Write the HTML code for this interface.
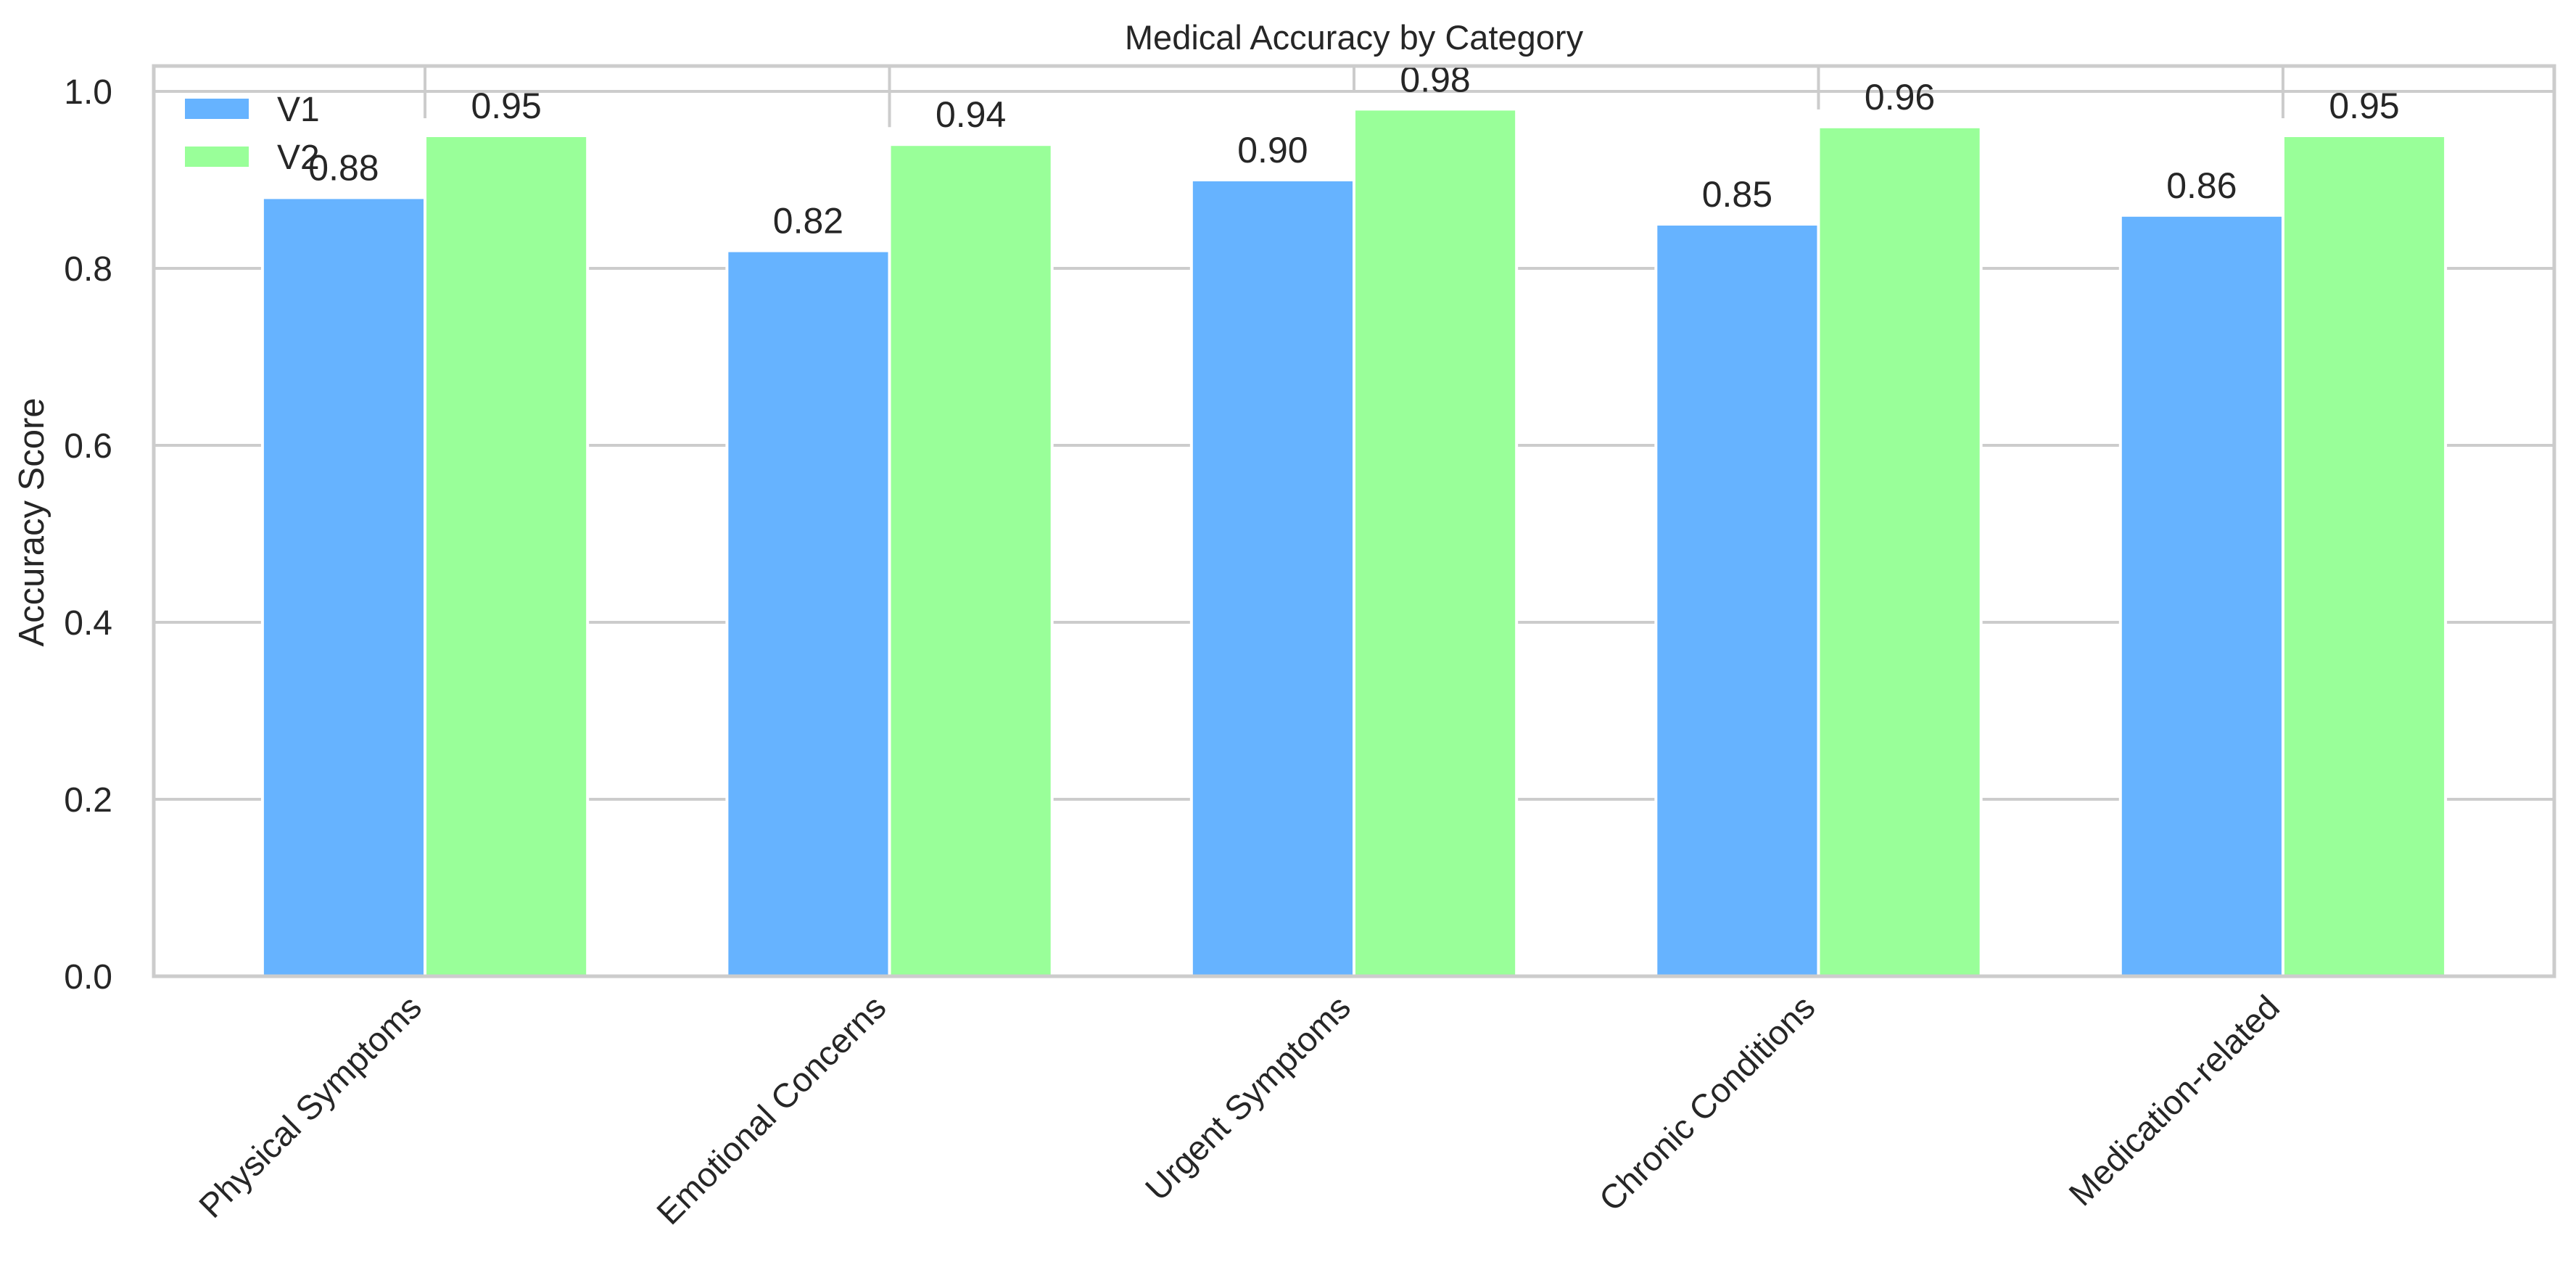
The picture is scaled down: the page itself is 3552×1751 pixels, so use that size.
<!DOCTYPE html>
<html><head><meta charset="utf-8"><style>
html,body{margin:0;padding:0;background:#fff}
svg{display:block;font-family:"Liberation Sans",Arial,sans-serif}
</style></head><body>
<svg id="chart" width="3552" height="1751" viewBox="0 0 3552 1751" xmlns="http://www.w3.org/2000/svg">
<rect width="3552" height="1751" fill="#fff"/>
<g id="grid"></g>
<g id="bars"></g>
<g id="labels"></g>
<g id="axes"></g>
<text x="1867" y="68" font-size="47" text-anchor="middle" fill="#262626">Medical Accuracy by Category</text>
<text transform="translate(60,720) rotate(-90)" font-size="49" text-anchor="middle" fill="#262626">Accuracy Score</text>
<g>
<rect x="255" y="136" width="88" height="28" fill="#66b3ff"/>
<text x="382" y="167" font-size="48" fill="#262626">V1</text>
<rect x="255" y="202" width="88" height="28" fill="#99ff99"/>
<text x="382" y="233" font-size="48" fill="#262626">V2</text>
</g>
</svg>
<script>
const categories = ["Physical Symptoms","Emotional Concerns","Urgent Symptoms","Chronic Conditions","Medication-related"];
const v1Values = [0.88,0.82,0.90,0.85,0.86];
const v2Values = [0.95,0.94,0.98,0.96,0.95];
const yTicks = [0.0,0.2,0.4,0.6,0.8,1.0];
const yTickLabels = ["0.0","0.2","0.4","0.6","0.8","1.0"];

const NS="http://www.w3.org/2000/svg";
const L=212,R=3522,T=91,B=1346;
const xMin=-0.584,xMax=4.584,yMax=1.0287;
const xs=v=>L+(v-xMin)/(xMax-xMin)*(R-L);
const ys=v=>B-v/yMax*(B-T);
const bw=0.35;
function mk(tag,attrs,parent){const e=document.createElementNS(NS,tag);for(const k in attrs)e.setAttribute(k,attrs[k]);parent.appendChild(e);return e;}
const grid=document.getElementById('grid'),bars=document.getElementById('bars'),labels=document.getElementById('labels'),axes=document.getElementById('axes');

yTicks.forEach((t,i)=>{
  if(t>0){const g=mk('line',{x1:L,x2:R,y1:ys(t),y2:ys(t),stroke:'#cccccc','stroke-width':4},grid);
  
  }
  const tx=mk('text',{x:155,y:ys(t)+17,'font-size':48,'text-anchor':'end',fill:'#262626'},axes);
  tx.textContent=yTickLabels[i];
  
  
});

categories.forEach((c,i)=>{
  const vg=mk('line',{x1:xs(i),x2:xs(i),y1:T,y2:ys(v2Values[i])-24,stroke:'#cccccc','stroke-width':4},grid);
  
  
  [[v1Values[i],-bw/2,'#66b3ff','v1'],[v2Values[i],bw/2,'#99ff99','v2']].forEach(([v,off,col,s])=>{
    const x0=xs(i+off-bw/2),x1=xs(i+off+bw/2);
    const r=mk('rect',{x:x0,y:ys(v),width:x1-x0,height:B-ys(v),fill:col,stroke:'#fff','stroke-width':4},bars);
    
    
    const t=mk('text',{x:xs(i+off),y:ys(v)-24,'font-size':50,'text-anchor':'middle',fill:'#262626'},labels);
    t.textContent=v.toFixed(2);
    
    
  });
  const xt=mk('text',{transform:`translate(${xs(i)-2},${B+46}) rotate(-45)`,'font-size':47,'text-anchor':'end',fill:'#262626'},axes);
  xt.textContent=c;
  
  
});

const frame=mk('rect',{x:L,y:T,width:R-L,height:B-T,fill:'none',stroke:'#cccccc','stroke-width':5},axes);


</script>
</body></html>
